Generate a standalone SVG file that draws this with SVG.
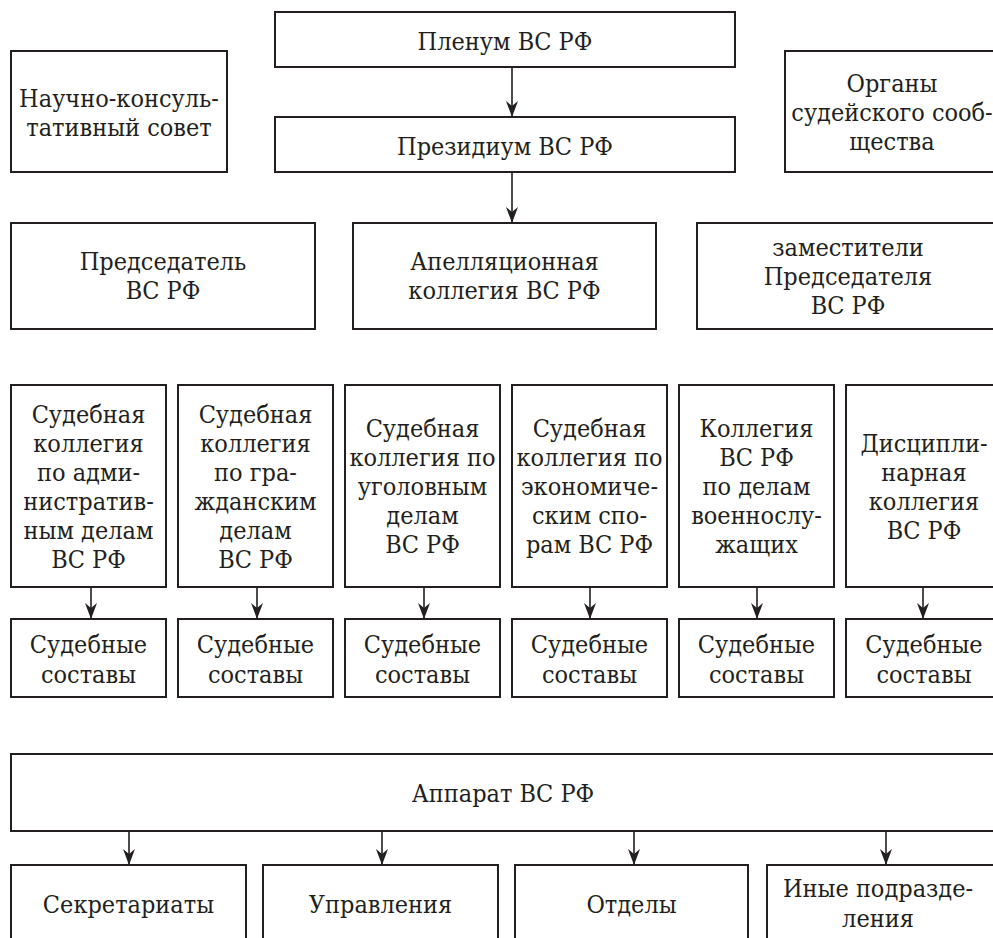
<svg xmlns="http://www.w3.org/2000/svg" width="993" height="938" viewBox="0 0 993 938">
<defs>
<style>
rect{fill:#fff;stroke:#231f20;stroke-width:2}
text{font-size:25px;fill:#231f20;text-anchor:middle}
.c line{stroke:#231f20;stroke-width:1.6}
</style>
<marker id="ad" viewBox="0 0 12 16" refX="6" refY="16" markerWidth="12" markerHeight="16" markerUnits="userSpaceOnUse" orient="0">
<path d="M0,0 L6,5 L12,0 L6,16 Z" fill="#231f20"/>
</marker>
</defs>
<rect width="993" height="938" style="fill:#fff;stroke:none"/>
<g font-family="DejaVu Serif Condensed, DejaVu Serif, serif" font-stretch="condensed">
<g id="plenum"><rect x="275" y="12" width="460" height="55"/><text x="505" y="50">Пленум ВС РФ</text></g>
<g id="presidium"><rect x="275" y="117" width="460" height="55"/><text x="505" y="155">Президиум ВС РФ</text></g>
<g id="nks"><rect x="11" y="51" width="216" height="121"/><text x="119" y="107">Научно-консуль-</text><text x="119" y="136">тативный совет</text></g>
<g id="organy"><rect x="785" y="51" width="220" height="121"/><text x="892" y="92">Органы</text><text x="892" y="121">судейского сооб-</text><text x="892" y="150">щества</text></g>
<g id="predsedatel"><rect x="11" y="223" width="304" height="106"/><text x="163" y="270">Председатель</text><text x="163" y="299">ВС РФ</text></g>
<g id="apell"><rect x="353" y="223" width="303" height="106"/><text x="504.5" y="270">Апелляционная</text><text x="504.5" y="299">коллегия ВС РФ</text></g>
<g id="zam"><rect x="697" y="223" width="310" height="106"/><text x="848" y="256">заместители</text><text x="848" y="285">Председателя</text><text x="848" y="314">ВС РФ</text></g>

<g id="col1"><rect x="11" y="385" width="155" height="202"/><text x="88.5" y="423">Судебная</text><text x="88.5" y="452">коллегия</text><text x="88.5" y="481">по адми-</text><text x="88.5" y="510">нистратив-</text><text x="88.5" y="539">ным делам</text><text x="88.5" y="568">ВС РФ</text></g>
<g id="col2"><rect x="178" y="385" width="155" height="202"/><text x="255.5" y="423">Судебная</text><text x="255.5" y="452">коллегия</text><text x="255.5" y="481">по гра-</text><text x="255.5" y="510">жданским</text><text x="255.5" y="539">делам</text><text x="255.5" y="568">ВС РФ</text></g>
<g id="col3"><rect x="345" y="385" width="155" height="202"/><text x="422.5" y="437">Судебная</text><text x="422.5" y="466">коллегия по</text><text x="422.5" y="495">уголовным</text><text x="422.5" y="524">делам</text><text x="422.5" y="553">ВС РФ</text></g>
<g id="col4"><rect x="512" y="385" width="155" height="202"/><text x="589.5" y="437">Судебная</text><text x="589.5" y="466">коллегия по</text><text x="589.5" y="495">экономиче-</text><text x="589.5" y="524">ским спо-</text><text x="589.5" y="553">рам ВС РФ</text></g>
<g id="col5"><rect x="679" y="385" width="155" height="202"/><text x="756.5" y="437">Коллегия</text><text x="756.5" y="466">ВС РФ</text><text x="756.5" y="495">по делам</text><text x="756.5" y="524">военнослу-</text><text x="756.5" y="553">жащих</text></g>
<g id="col6"><rect x="846" y="385" width="160" height="202"/><text x="924" y="452">Дисципли-</text><text x="924" y="481">нарная</text><text x="924" y="510">коллегия</text><text x="924" y="539">ВС РФ</text></g>

<g id="sost1"><rect x="11" y="619" width="155" height="78"/><text x="88.5" y="653">Судебные</text><text x="88.5" y="683">составы</text></g>
<g id="sost2"><rect x="178" y="619" width="155" height="78"/><text x="255.5" y="653">Судебные</text><text x="255.5" y="683">составы</text></g>
<g id="sost3"><rect x="345" y="619" width="155" height="78"/><text x="422.5" y="653">Судебные</text><text x="422.5" y="683">составы</text></g>
<g id="sost4"><rect x="512" y="619" width="155" height="78"/><text x="589.5" y="653">Судебные</text><text x="589.5" y="683">составы</text></g>
<g id="sost5"><rect x="679" y="619" width="155" height="78"/><text x="756.5" y="653">Судебные</text><text x="756.5" y="683">составы</text></g>
<g id="sost6"><rect x="846" y="619" width="160" height="78"/><text x="924" y="653">Судебные</text><text x="924" y="683">составы</text></g>

<g id="apparat"><rect x="11" y="754" width="995" height="77"/><text x="503" y="802">Аппарат ВС РФ</text></g>
<g id="sekr"><rect x="11" y="865" width="235" height="90"/><text x="128.5" y="913">Секретариаты</text></g>
<g id="uprav"><rect x="263" y="865" width="235" height="90"/><text x="380.5" y="913">Управления</text></g>
<g id="otdely"><rect x="515" y="865" width="233" height="90"/><text x="631.5" y="913">Отделы</text></g>
<g id="inye"><rect x="767" y="865" width="240" height="90"/><text x="878" y="897">Иные подразде-</text><text x="878" y="927">ления</text></g>
</g>
<g class="c" id="connectors">
<line x1="512" y1="67" x2="512" y2="117" marker-end="url(#ad)"/>
<line x1="512" y1="172" x2="512" y2="223" marker-end="url(#ad)"/>
<line x1="91" y1="587" x2="91" y2="619" marker-end="url(#ad)"/>
<line x1="257" y1="587" x2="257" y2="619" marker-end="url(#ad)"/>
<line x1="424" y1="587" x2="424" y2="619" marker-end="url(#ad)"/>
<line x1="590" y1="587" x2="590" y2="619" marker-end="url(#ad)"/>
<line x1="757" y1="587" x2="757" y2="619" marker-end="url(#ad)"/>
<line x1="923" y1="587" x2="923" y2="619" marker-end="url(#ad)"/>
<line x1="129" y1="831" x2="129" y2="865" marker-end="url(#ad)"/>
<line x1="382" y1="831" x2="382" y2="865" marker-end="url(#ad)"/>
<line x1="634" y1="831" x2="634" y2="865" marker-end="url(#ad)"/>
<line x1="886" y1="831" x2="886" y2="865" marker-end="url(#ad)"/>
</g>
</svg>
